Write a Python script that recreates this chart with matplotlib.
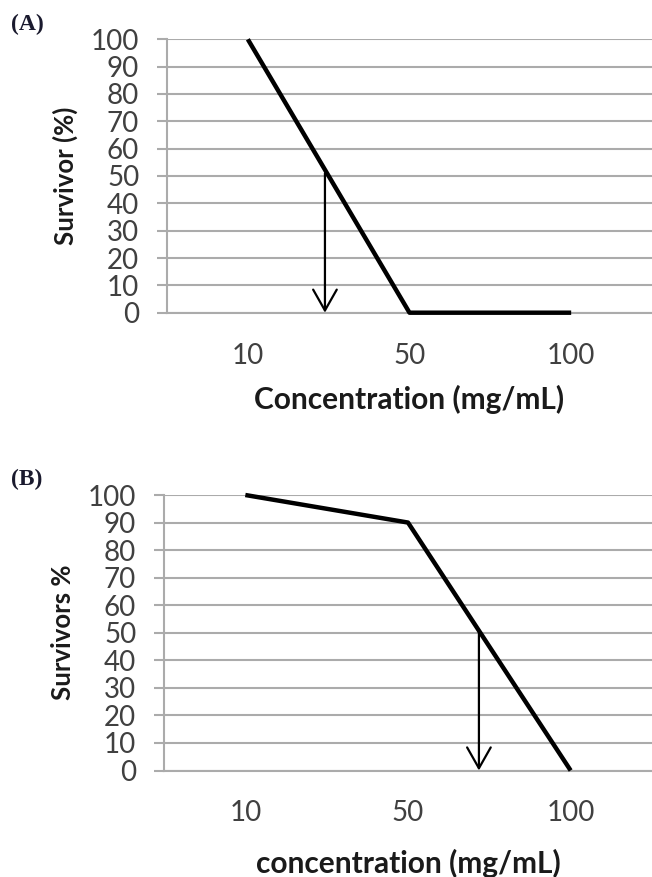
import matplotlib
matplotlib.use('Agg')
import matplotlib.pyplot as plt

# category axis, Excel style
conc_labels = ['10', '50', '100']

# (A)
surv_a = [100, 0, 0]
arrow_a = 0.477      # x where survivors = 50 %
# (B)
surv_b = [100, 90, 0]
arrow_b = 1.436

yticks = [0, 10, 20, 30, 40, 50, 60, 70, 80, 90, 100]

grid_col = '#ababab'
tick_col = '#404040'
W, H = 652, 877

plt.rcParams['font.family'] = ['Lato', 'DejaVu Sans']

fig = plt.figure(figsize=(W / 100, H / 100), dpi=100)


def panel(rect, vals, arrow_x, letter, letter_y, ylab, xlab, xpad, lpad):
    ax = fig.add_axes(rect)
    x = range(len(vals))
    ax.set_xlim(-0.5, 2.5)
    ax.set_ylim(0, 100)
    ax.set_yticks(yticks)
    ax.set_xticks(list(x))
    ax.set_xticklabels(conc_labels)
    ax.yaxis.grid(True, color=grid_col, lw=1.5)
    ax.set_axisbelow(True)
    for s in ['top', 'right']:
        ax.spines[s].set_visible(False)
    ax.spines['left'].set_color(grid_col)
    ax.spines['left'].set_linewidth(1.5)
    ax.spines['bottom'].set_color(grid_col)
    ax.spines['bottom'].set_linewidth(1.5)
    ax.tick_params(axis='y', length=7, width=1.5, color=grid_col,
                   labelsize=20, labelcolor=tick_col, pad=13)
    ax.tick_params(axis='x', length=0, labelsize=20, labelcolor=tick_col, pad=xpad)

    ax.plot(list(x), vals, color='black', lw=3.2, clip_on=False, zorder=5,
            solid_capstyle='butt')
    ax.annotate('', xy=(arrow_x, 0), xytext=(arrow_x, 51),
                arrowprops=dict(arrowstyle='->,head_length=1.5,head_width=0.85',
                                lw=1.6, color='black', shrinkA=0, shrinkB=0),
                zorder=6)

    ax.set_ylabel(ylab, fontsize=18.5, fontweight='bold', color='#1a1a1a', labelpad=9)
    ax.set_xlabel(xlab, fontsize=21.5, fontweight='bold', color='#1a1a1a', labelpad=lpad)
    fig.text(27 / W, 1 - letter_y / H, letter, family='Liberation Serif',
             fontweight='bold', fontsize=17, color='#1a1a2e', ha='center', va='center')
    return ax


panel([167 / W, 1 - 312.7 / H, 485 / W, 273.4 / H], surv_a, arrow_a,
      '(A)', 24, 'Survivor (%)', 'Concentration (mg/mL)', 22, 11)
panel([164 / W, 1 - 770.5 / H, 488 / W, 275.5 / H], surv_b, arrow_b,
      '(B)', 479, 'Survivors %', 'concentration (mg/mL)', 21, 17)

fig.savefig('out.png', dpi=100)
